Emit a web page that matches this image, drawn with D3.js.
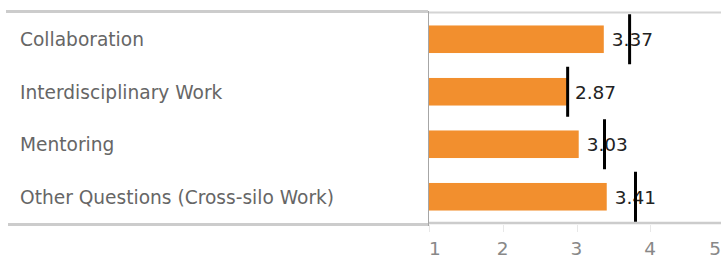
<!DOCTYPE html>
<html>
<head>
<meta charset="utf-8">
<script src="https://cdn.jsdelivr.net/npm/d3@7"></script>
<style>
  body { margin: 0; background: #fff; }
  svg { display: block; font-family: "DejaVu Sans", Verdana, sans-serif; }
</style>
</head>
<body>
<svg id="chart" width="721" height="258"></svg>
<script>
// survey scores per area, plus the target marker for each
var categories = ["Collaboration", "Interdisciplinary Work", "Mentoring", "Other Questions (Cross-silo Work)"];
var scores = [3.37, 2.87, 3.03, 3.41];
var targets = [3.72, 2.88, 3.38, 3.80];
var tickValues = [1, 2, 3, 4, 5];

var rows = categories.map(function(c, i) {
  return {name: c, score: scores[i], target: targets[i]};
});

var svg = d3.select("#chart");

var x = d3.scaleLinear().domain([1, 5]).range([429, 724]);
var y = d3.scaleBand().domain(categories).range([13, 223])
  .paddingInner(0.475).paddingOuter(0.2375);

// frame lines
svg.append("line").attr("x1", 6).attr("x2", 428).attr("y1", 11.5).attr("y2", 11.5)
  .attr("stroke", "#cccccc").attr("stroke-width", 3);
svg.append("line").attr("x1", 428).attr("x2", 721).attr("y1", 12.5).attr("y2", 12.5)
  .attr("stroke", "#d4d4d4").attr("stroke-width", 2);
svg.append("line").attr("x1", 8).attr("x2", 428).attr("y1", 224.5).attr("y2", 224.5)
  .attr("stroke", "#cccccc").attr("stroke-width", 3);
svg.append("line").attr("x1", 428).attr("x2", 721).attr("y1", 223).attr("y2", 223)
  .attr("stroke", "#cccccc").attr("stroke-width", 2.5);

// faint tick marks under the axis
svg.append("g").selectAll("line")
  .data(tickValues).enter().append("line")
  .attr("x1", function(d) { return Math.round(x(d)) + 0.5; })
  .attr("x2", function(d) { return Math.round(x(d)) + 0.5; })
  .attr("y1", 225).attr("y2", 232)
  .attr("stroke", "#e8e8e8");

svg.append("line").attr("x1", 428.5).attr("x2", 428.5).attr("y1", 11).attr("y2", 226)
  .attr("stroke", "#a6a6a6").attr("stroke-width", 1);

// tick labels, first and last kept inside the frame
svg.append("g").selectAll("text")
  .data(tickValues).enter().append("text")
  .attr("x", function(d, i) {
    if (i == 0) return x(d);
    if (i == tickValues.length - 1) return 721;
    return x(d);
  })
  .attr("y", 255)
  .attr("text-anchor", function(d, i) {
    if (i == 0) return "start";
    if (i == tickValues.length - 1) return "end";
    return "middle";
  })
  .attr("fill", "#888888")
  .style("font-size", "18.5px")
  .text(function(d) { return d; });

// row labels
svg.append("g").selectAll("text")
  .data(rows).enter().append("text")
  .attr("x", 20)
  .attr("y", function(d) { return y(d.name) + y.bandwidth() / 2 + 7; })
  .attr("fill", "#666666")
  .style("font-size", "18.6px")
  .text(function(d) { return d.name; });

// bars
svg.append("g").selectAll("rect")
  .data(rows).enter().append("rect")
  .attr("x", x(1))
  .attr("y", function(d) { return y(d.name); })
  .attr("width", function(d) { return x(d.score) - x(1); })
  .attr("height", y.bandwidth())
  .attr("fill", "#f28f2e");

// value labels
svg.append("g").selectAll("text")
  .data(rows).enter().append("text")
  .attr("x", function(d) { return x(d.score) + 8; })
  .attr("y", function(d) { return y(d.name) + y.bandwidth() / 2 + 7; })
  .attr("fill", "#222222")
  .style("font-size", "18.5px")
  .text(function(d) { return d.score.toFixed(2); });

// target markers
svg.append("g").selectAll("line")
  .data(rows).enter().append("line")
  .attr("x1", function(d) { return x(d.target); })
  .attr("x2", function(d) { return x(d.target); })
  .attr("y1", function(d) { return y(d.name) + y.bandwidth() / 2 - 25; })
  .attr("y2", function(d) { return y(d.name) + y.bandwidth() / 2 + 25; })
  .attr("stroke", "#000")
  .attr("stroke-width", 3);
</script>
</body>
</html>
